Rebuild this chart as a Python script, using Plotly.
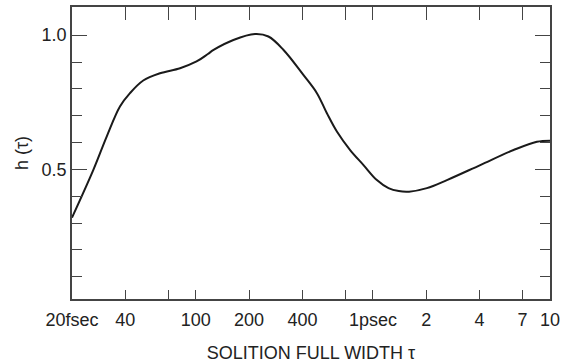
import plotly.graph_objects as go

# Data (tau in fs, h(tau))
tau_fs = [20, 26.4, 31.4, 37.3, 42.5, 50.5, 62.8, 81.5, 101, 117, 126, 163, 216, 257,
          313, 405, 483, 550, 626, 744, 885, 1053, 1225, 1400, 1600, 2018, 2618, 4038, 6226, 8440, 10000]
h_tau = [0.32, 0.498, 0.622, 0.734, 0.784, 0.831, 0.858, 0.877, 0.902, 0.930, 0.945, 0.982, 1.004, 0.995,
         0.945, 0.852, 0.784, 0.709, 0.641, 0.572, 0.516, 0.460, 0.430, 0.419, 0.417, 0.430, 0.460, 0.516, 0.572, 0.603, 0.607]

x_tickvals = [20, 40, 70, 100, 200, 400, 700, 1000, 2000, 4000, 7000, 10000]
x_ticktext = ["20fsec", "40", "", "100", "200", "400", "", "1psec", "2", "4", "7", "10"]
y_tickvals = [0.5, 1.0]
y_ticktext = ["0.5", "1.0"]

axis_color = "#444444"
font = dict(family="Liberation Sans, Arial, sans-serif", size=18, color="#222222")

fig = go.Figure()
fig.add_trace(go.Scatter(x=tau_fs, y=h_tau, mode="lines",
                         line=dict(color="#1a1a1a", width=2, shape="spline", smoothing=1.0),
                         showlegend=False, hoverinfo="skip"))
# invisible trace to activate the top axis
fig.add_trace(go.Scatter(x=tau_fs, y=h_tau, mode="lines", xaxis="x2",
                         line=dict(width=0), opacity=0, showlegend=False, hoverinfo="skip"))

fig.update_layout(
    width=561, height=363,
    margin=dict(l=72, r=11, t=7, b=64, autoexpand=False),
    paper_bgcolor="white", plot_bgcolor="white",
    font=font,
    xaxis=dict(type="log", range=[1.30103, 4.0], automargin=False,
               tickmode="array", tickvals=x_tickvals, ticktext=x_ticktext,
               ticks="inside", ticklen=9, tickwidth=1.3, tickcolor=axis_color,
               ticklabelstandoff=4,
               showline=True, linecolor=axis_color, linewidth=1.5,
               showgrid=False, zeroline=False,
               title=dict(text="SOLITION FULL WIDTH τ", standoff=20, font=font),
               tickfont=font),
    xaxis2=dict(type="log", range=[1.30103, 4.0], overlaying="x", side="top",
                tickmode="array", tickvals=x_tickvals, showticklabels=False,
                ticks="inside", ticklen=13, tickwidth=1.3, tickcolor=axis_color,
                showline=True, linecolor=axis_color, linewidth=1.5,
                showgrid=False, zeroline=False, automargin=False),
    yaxis=dict(range=[0.017, 1.105], automargin=False,
               tickmode="array", tickvals=y_tickvals, ticktext=y_ticktext,
               ticks="inside", ticklen=15, tickwidth=1.3, tickcolor=axis_color,
               minor=dict(tickmode="array", tickvals=[0.1, 0.2, 0.3, 0.4, 0.6, 0.7, 0.8, 0.9],
                          ticks="inside", ticklen=10, tickwidth=1.3, tickcolor=axis_color),
               showline=True, linecolor=axis_color, linewidth=1.5, mirror="ticks",
               showgrid=False, zeroline=False,
               title=dict(text="h (τ)", standoff=8, font=font),
               tickfont=font),
)

fig.write_html("out.html", config={"displayModeBar": False},
               post_script="document.body.style.margin='0';")
